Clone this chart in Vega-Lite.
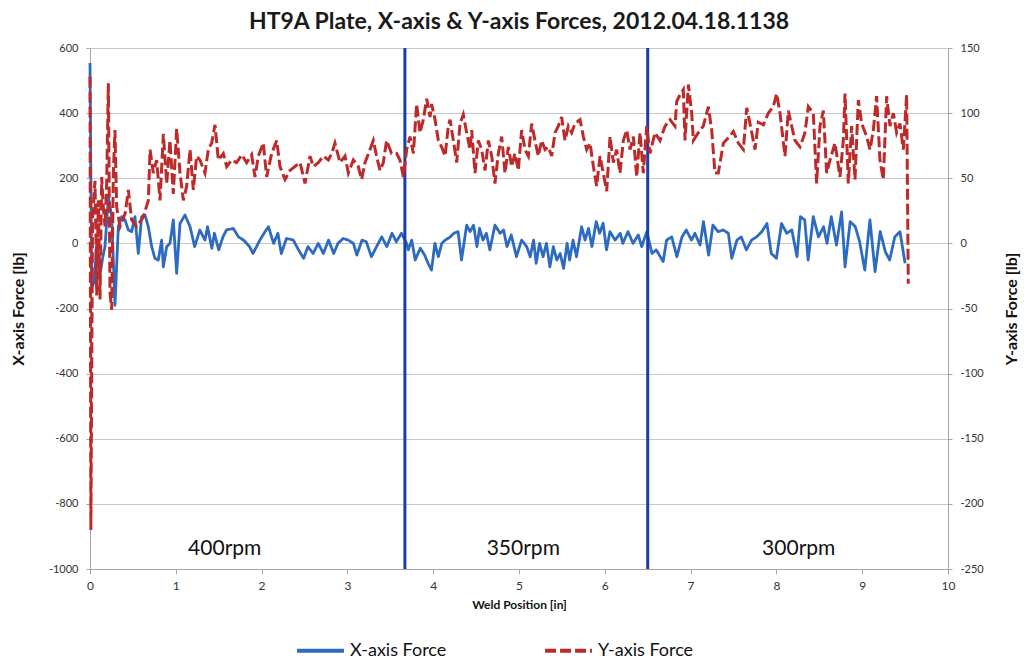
{
  "$schema": "https://vega.github.io/schema/vega-lite/v6.json",
  "width": 858,
  "height": 521,
  "autosize": {"type": "none"},
  "padding": {"left": 90, "top": 48, "right": 80, "bottom": 92},
  "background": "white",
  "config": {
    "font": "Lato",
    "view": {"stroke": null},
    "axis": {"domainColor": "#a6a6a6", "tickColor": "#a6a6a6", "labelColor": "#333333", "titleColor": "#111111", "gridColor": "#c8c8c8", "labelFont": "Lato", "titleFont": "Lato"},
    "legend": {"labelFont": "Lato"}
  },
  "title": {"text": "HT9A Plate, X-axis & Y-axis Forces, 2012.04.18.1138", "font": "Lato", "fontSize": 23, "fontWeight": "bold", "color": "#1a1a1a", "offset": 8, "anchor": "middle"},
  "datasets": {
    "forces": [
      {"pos": 0.0, "force": 554, "series": "X-axis Force"},
      {"pos": 0.02, "force": -133, "series": "X-axis Force"},
      {"pos": 0.05, "force": -120, "series": "X-axis Force"},
      {"pos": 0.08, "force": 10, "series": "X-axis Force"},
      {"pos": 0.10, "force": -60, "series": "X-axis Force"},
      {"pos": 0.12, "force": -92, "series": "X-axis Force"},
      {"pos": 0.15, "force": -40, "series": "X-axis Force"},
      {"pos": 0.175, "force": -10, "series": "X-axis Force"},
      {"pos": 0.214, "force": 143, "series": "X-axis Force"},
      {"pos": 0.253, "force": 82, "series": "X-axis Force"},
      {"pos": 0.291, "force": -190, "series": "X-axis Force"},
      {"pos": 0.33, "force": 51, "series": "X-axis Force"},
      {"pos": 0.369, "force": 82, "series": "X-axis Force"},
      {"pos": 0.408, "force": 72, "series": "X-axis Force"},
      {"pos": 0.447, "force": 41, "series": "X-axis Force"},
      {"pos": 0.485, "force": 36, "series": "X-axis Force"},
      {"pos": 0.524, "force": 82, "series": "X-axis Force"},
      {"pos": 0.563, "force": -31, "series": "X-axis Force"},
      {"pos": 0.602, "force": 82, "series": "X-axis Force"},
      {"pos": 0.641, "force": 87, "series": "X-axis Force"},
      {"pos": 0.68, "force": 51, "series": "X-axis Force"},
      {"pos": 0.719, "force": -10, "series": "X-axis Force"},
      {"pos": 0.757, "force": -46, "series": "X-axis Force"},
      {"pos": 0.796, "force": -51, "series": "X-axis Force"},
      {"pos": 0.835, "force": 10, "series": "X-axis Force"},
      {"pos": 0.855, "force": -72, "series": "X-axis Force"},
      {"pos": 0.894, "force": -10, "series": "X-axis Force"},
      {"pos": 0.932, "force": 0, "series": "X-axis Force"},
      {"pos": 0.971, "force": 72, "series": "X-axis Force"},
      {"pos": 1.01, "force": -92, "series": "X-axis Force"},
      {"pos": 1.049, "force": 61, "series": "X-axis Force"},
      {"pos": 1.107, "force": 87, "series": "X-axis Force"},
      {"pos": 1.166, "force": 51, "series": "X-axis Force"},
      {"pos": 1.22, "force": -10, "series": "X-axis Force"},
      {"pos": 1.28, "force": 41, "series": "X-axis Force"},
      {"pos": 1.34, "force": 10, "series": "X-axis Force"},
      {"pos": 1.37, "force": 51, "series": "X-axis Force"},
      {"pos": 1.42, "force": -15, "series": "X-axis Force"},
      {"pos": 1.45, "force": 31, "series": "X-axis Force"},
      {"pos": 1.50, "force": -20, "series": "X-axis Force"},
      {"pos": 1.55, "force": 20, "series": "X-axis Force"},
      {"pos": 1.59, "force": 41, "series": "X-axis Force"},
      {"pos": 1.67, "force": 46, "series": "X-axis Force"},
      {"pos": 1.73, "force": 20, "series": "X-axis Force"},
      {"pos": 1.79, "force": 10, "series": "X-axis Force"},
      {"pos": 1.86, "force": -10, "series": "X-axis Force"},
      {"pos": 1.90, "force": -31, "series": "X-axis Force"},
      {"pos": 1.98, "force": 10, "series": "X-axis Force"},
      {"pos": 2.04, "force": 36, "series": "X-axis Force"},
      {"pos": 2.08, "force": 51, "series": "X-axis Force"},
      {"pos": 2.14, "force": 0, "series": "X-axis Force"},
      {"pos": 2.19, "force": 31, "series": "X-axis Force"},
      {"pos": 2.23, "force": -31, "series": "X-axis Force"},
      {"pos": 2.29, "force": 15, "series": "X-axis Force"},
      {"pos": 2.37, "force": 10, "series": "X-axis Force"},
      {"pos": 2.43, "force": -20, "series": "X-axis Force"},
      {"pos": 2.49, "force": -46, "series": "X-axis Force"},
      {"pos": 2.54, "force": -10, "series": "X-axis Force"},
      {"pos": 2.60, "force": -31, "series": "X-axis Force"},
      {"pos": 2.66, "force": 0, "series": "X-axis Force"},
      {"pos": 2.72, "force": -31, "series": "X-axis Force"},
      {"pos": 2.78, "force": 10, "series": "X-axis Force"},
      {"pos": 2.84, "force": -31, "series": "X-axis Force"},
      {"pos": 2.89, "force": 0, "series": "X-axis Force"},
      {"pos": 2.95, "force": 15, "series": "X-axis Force"},
      {"pos": 3.01, "force": 10, "series": "X-axis Force"},
      {"pos": 3.07, "force": 0, "series": "X-axis Force"},
      {"pos": 3.11, "force": -36, "series": "X-axis Force"},
      {"pos": 3.17, "force": 10, "series": "X-axis Force"},
      {"pos": 3.22, "force": 5, "series": "X-axis Force"},
      {"pos": 3.28, "force": -41, "series": "X-axis Force"},
      {"pos": 3.34, "force": -10, "series": "X-axis Force"},
      {"pos": 3.40, "force": 20, "series": "X-axis Force"},
      {"pos": 3.46, "force": -10, "series": "X-axis Force"},
      {"pos": 3.52, "force": 31, "series": "X-axis Force"},
      {"pos": 3.57, "force": 5, "series": "X-axis Force"},
      {"pos": 3.63, "force": 31, "series": "X-axis Force"},
      {"pos": 3.69, "force": 0, "series": "X-axis Force"},
      {"pos": 3.71, "force": -20, "series": "X-axis Force"},
      {"pos": 3.75, "force": 10, "series": "X-axis Force"},
      {"pos": 3.79, "force": -51, "series": "X-axis Force"},
      {"pos": 3.85, "force": -15, "series": "X-axis Force"},
      {"pos": 3.90, "force": -36, "series": "X-axis Force"},
      {"pos": 3.94, "force": -61, "series": "X-axis Force"},
      {"pos": 3.98, "force": -82, "series": "X-axis Force"},
      {"pos": 4.02, "force": 0, "series": "X-axis Force"},
      {"pos": 4.06, "force": -41, "series": "X-axis Force"},
      {"pos": 4.10, "force": 0, "series": "X-axis Force"},
      {"pos": 4.14, "force": 10, "series": "X-axis Force"},
      {"pos": 4.20, "force": 20, "series": "X-axis Force"},
      {"pos": 4.24, "force": 31, "series": "X-axis Force"},
      {"pos": 4.29, "force": 36, "series": "X-axis Force"},
      {"pos": 4.33, "force": -51, "series": "X-axis Force"},
      {"pos": 4.39, "force": 56, "series": "X-axis Force"},
      {"pos": 4.43, "force": 36, "series": "X-axis Force"},
      {"pos": 4.47, "force": 56, "series": "X-axis Force"},
      {"pos": 4.51, "force": -10, "series": "X-axis Force"},
      {"pos": 4.54, "force": 46, "series": "X-axis Force"},
      {"pos": 4.58, "force": 10, "series": "X-axis Force"},
      {"pos": 4.62, "force": 31, "series": "X-axis Force"},
      {"pos": 4.66, "force": -20, "series": "X-axis Force"},
      {"pos": 4.72, "force": 56, "series": "X-axis Force"},
      {"pos": 4.78, "force": 31, "series": "X-axis Force"},
      {"pos": 4.82, "force": 41, "series": "X-axis Force"},
      {"pos": 4.86, "force": -10, "series": "X-axis Force"},
      {"pos": 4.91, "force": 26, "series": "X-axis Force"},
      {"pos": 4.97, "force": -41, "series": "X-axis Force"},
      {"pos": 5.03, "force": 10, "series": "X-axis Force"},
      {"pos": 5.09, "force": -10, "series": "X-axis Force"},
      {"pos": 5.13, "force": -41, "series": "X-axis Force"},
      {"pos": 5.17, "force": 10, "series": "X-axis Force"},
      {"pos": 5.20, "force": -61, "series": "X-axis Force"},
      {"pos": 5.24, "force": 0, "series": "X-axis Force"},
      {"pos": 5.28, "force": -41, "series": "X-axis Force"},
      {"pos": 5.32, "force": 0, "series": "X-axis Force"},
      {"pos": 5.36, "force": -72, "series": "X-axis Force"},
      {"pos": 5.40, "force": -10, "series": "X-axis Force"},
      {"pos": 5.44, "force": -51, "series": "X-axis Force"},
      {"pos": 5.48, "force": -31, "series": "X-axis Force"},
      {"pos": 5.52, "force": -77, "series": "X-axis Force"},
      {"pos": 5.56, "force": 0, "series": "X-axis Force"},
      {"pos": 5.59, "force": -51, "series": "X-axis Force"},
      {"pos": 5.63, "force": 10, "series": "X-axis Force"},
      {"pos": 5.67, "force": -41, "series": "X-axis Force"},
      {"pos": 5.73, "force": 51, "series": "X-axis Force"},
      {"pos": 5.77, "force": 10, "series": "X-axis Force"},
      {"pos": 5.81, "force": 46, "series": "X-axis Force"},
      {"pos": 5.85, "force": -10, "series": "X-axis Force"},
      {"pos": 5.90, "force": 67, "series": "X-axis Force"},
      {"pos": 5.94, "force": 31, "series": "X-axis Force"},
      {"pos": 5.98, "force": 62, "series": "X-axis Force"},
      {"pos": 6.02, "force": -20, "series": "X-axis Force"},
      {"pos": 6.06, "force": 36, "series": "X-axis Force"},
      {"pos": 6.12, "force": 10, "series": "X-axis Force"},
      {"pos": 6.18, "force": 31, "series": "X-axis Force"},
      {"pos": 6.21, "force": 0, "series": "X-axis Force"},
      {"pos": 6.27, "force": 36, "series": "X-axis Force"},
      {"pos": 6.33, "force": 0, "series": "X-axis Force"},
      {"pos": 6.39, "force": 26, "series": "X-axis Force"},
      {"pos": 6.43, "force": -10, "series": "X-axis Force"},
      {"pos": 6.49, "force": 36, "series": "X-axis Force"},
      {"pos": 6.55, "force": -31, "series": "X-axis Force"},
      {"pos": 6.60, "force": -20, "series": "X-axis Force"},
      {"pos": 6.68, "force": -56, "series": "X-axis Force"},
      {"pos": 6.72, "force": 10, "series": "X-axis Force"},
      {"pos": 6.78, "force": 20, "series": "X-axis Force"},
      {"pos": 6.84, "force": -41, "series": "X-axis Force"},
      {"pos": 6.90, "force": 20, "series": "X-axis Force"},
      {"pos": 6.95, "force": 41, "series": "X-axis Force"},
      {"pos": 7.01, "force": 10, "series": "X-axis Force"},
      {"pos": 7.05, "force": 31, "series": "X-axis Force"},
      {"pos": 7.11, "force": -5, "series": "X-axis Force"},
      {"pos": 7.15, "force": 67, "series": "X-axis Force"},
      {"pos": 7.21, "force": -36, "series": "X-axis Force"},
      {"pos": 7.26, "force": 56, "series": "X-axis Force"},
      {"pos": 7.32, "force": 36, "series": "X-axis Force"},
      {"pos": 7.38, "force": 41, "series": "X-axis Force"},
      {"pos": 7.44, "force": 31, "series": "X-axis Force"},
      {"pos": 7.48, "force": -46, "series": "X-axis Force"},
      {"pos": 7.54, "force": 10, "series": "X-axis Force"},
      {"pos": 7.59, "force": 20, "series": "X-axis Force"},
      {"pos": 7.65, "force": -20, "series": "X-axis Force"},
      {"pos": 7.71, "force": 10, "series": "X-axis Force"},
      {"pos": 7.77, "force": 20, "series": "X-axis Force"},
      {"pos": 7.83, "force": 36, "series": "X-axis Force"},
      {"pos": 7.89, "force": 61, "series": "X-axis Force"},
      {"pos": 7.94, "force": -31, "series": "X-axis Force"},
      {"pos": 8.00, "force": -46, "series": "X-axis Force"},
      {"pos": 8.06, "force": 61, "series": "X-axis Force"},
      {"pos": 8.12, "force": 31, "series": "X-axis Force"},
      {"pos": 8.18, "force": 41, "series": "X-axis Force"},
      {"pos": 8.24, "force": -41, "series": "X-axis Force"},
      {"pos": 8.28, "force": 82, "series": "X-axis Force"},
      {"pos": 8.33, "force": 72, "series": "X-axis Force"},
      {"pos": 8.37, "force": -51, "series": "X-axis Force"},
      {"pos": 8.43, "force": 82, "series": "X-axis Force"},
      {"pos": 8.49, "force": 20, "series": "X-axis Force"},
      {"pos": 8.55, "force": 51, "series": "X-axis Force"},
      {"pos": 8.59, "force": 0, "series": "X-axis Force"},
      {"pos": 8.64, "force": 82, "series": "X-axis Force"},
      {"pos": 8.70, "force": -5, "series": "X-axis Force"},
      {"pos": 8.76, "force": 97, "series": "X-axis Force"},
      {"pos": 8.80, "force": -72, "series": "X-axis Force"},
      {"pos": 8.86, "force": 67, "series": "X-axis Force"},
      {"pos": 8.92, "force": 51, "series": "X-axis Force"},
      {"pos": 8.97, "force": 5, "series": "X-axis Force"},
      {"pos": 9.03, "force": -82, "series": "X-axis Force"},
      {"pos": 9.09, "force": 72, "series": "X-axis Force"},
      {"pos": 9.15, "force": -87, "series": "X-axis Force"},
      {"pos": 9.21, "force": 36, "series": "X-axis Force"},
      {"pos": 9.27, "force": -26, "series": "X-axis Force"},
      {"pos": 9.32, "force": -51, "series": "X-axis Force"},
      {"pos": 9.38, "force": 20, "series": "X-axis Force"},
      {"pos": 9.44, "force": 36, "series": "X-axis Force"},
      {"pos": 9.50, "force": -61, "series": "X-axis Force"},

      {"pos": 0.0, "force": 128, "series": "Y-axis Force"},
      {"pos": 0.01, "force": -220, "series": "Y-axis Force"},
      {"pos": 0.03, "force": 20, "series": "Y-axis Force"},
      {"pos": 0.058, "force": 48, "series": "Y-axis Force"},
      {"pos": 0.07, "force": 3, "series": "Y-axis Force"},
      {"pos": 0.078, "force": -40, "series": "Y-axis Force"},
      {"pos": 0.097, "force": 33, "series": "Y-axis Force"},
      {"pos": 0.117, "force": -43, "series": "Y-axis Force"},
      {"pos": 0.136, "force": 51, "series": "Y-axis Force"},
      {"pos": 0.155, "force": 28, "series": "Y-axis Force"},
      {"pos": 0.175, "force": 13, "series": "Y-axis Force"},
      {"pos": 0.194, "force": 46, "series": "Y-axis Force"},
      {"pos": 0.214, "force": 123, "series": "Y-axis Force"},
      {"pos": 0.233, "force": -38, "series": "Y-axis Force"},
      {"pos": 0.253, "force": -51, "series": "Y-axis Force"},
      {"pos": 0.272, "force": 54, "series": "Y-axis Force"},
      {"pos": 0.291, "force": 87, "series": "Y-axis Force"},
      {"pos": 0.311, "force": 28, "series": "Y-axis Force"},
      {"pos": 0.35, "force": 13, "series": "Y-axis Force"},
      {"pos": 0.41, "force": 23, "series": "Y-axis Force"},
      {"pos": 0.447, "force": 41, "series": "Y-axis Force"},
      {"pos": 0.485, "force": 18, "series": "Y-axis Force"},
      {"pos": 0.544, "force": 13, "series": "Y-axis Force"},
      {"pos": 0.62, "force": 20, "series": "Y-axis Force"},
      {"pos": 0.68, "force": 33, "series": "Y-axis Force"},
      {"pos": 0.70, "force": 72, "series": "Y-axis Force"},
      {"pos": 0.738, "force": 54, "series": "Y-axis Force"},
      {"pos": 0.777, "force": 64, "series": "Y-axis Force"},
      {"pos": 0.816, "force": 33, "series": "Y-axis Force"},
      {"pos": 0.855, "force": 84, "series": "Y-axis Force"},
      {"pos": 0.894, "force": 46, "series": "Y-axis Force"},
      {"pos": 0.932, "force": 79, "series": "Y-axis Force"},
      {"pos": 0.971, "force": 38, "series": "Y-axis Force"},
      {"pos": 1.01, "force": 88, "series": "Y-axis Force"},
      {"pos": 1.049, "force": 54, "series": "Y-axis Force"},
      {"pos": 1.088, "force": 33, "series": "Y-axis Force"},
      {"pos": 1.127, "force": 44, "series": "Y-axis Force"},
      {"pos": 1.166, "force": 72, "series": "Y-axis Force"},
      {"pos": 1.204, "force": 41, "series": "Y-axis Force"},
      {"pos": 1.243, "force": 67, "series": "Y-axis Force"},
      {"pos": 1.282, "force": 64, "series": "Y-axis Force"},
      {"pos": 1.34, "force": 54, "series": "Y-axis Force"},
      {"pos": 1.379, "force": 72, "series": "Y-axis Force"},
      {"pos": 1.418, "force": 77, "series": "Y-axis Force"},
      {"pos": 1.457, "force": 91, "series": "Y-axis Force"},
      {"pos": 1.496, "force": 64, "series": "Y-axis Force"},
      {"pos": 1.554, "force": 69, "series": "Y-axis Force"},
      {"pos": 1.593, "force": 59, "series": "Y-axis Force"},
      {"pos": 1.651, "force": 64, "series": "Y-axis Force"},
      {"pos": 1.709, "force": 62, "series": "Y-axis Force"},
      {"pos": 1.768, "force": 68, "series": "Y-axis Force"},
      {"pos": 1.826, "force": 62, "series": "Y-axis Force"},
      {"pos": 1.884, "force": 68, "series": "Y-axis Force"},
      {"pos": 1.923, "force": 51, "series": "Y-axis Force"},
      {"pos": 1.962, "force": 67, "series": "Y-axis Force"},
      {"pos": 2.02, "force": 77, "series": "Y-axis Force"},
      {"pos": 2.059, "force": 51, "series": "Y-axis Force"},
      {"pos": 2.117, "force": 69, "series": "Y-axis Force"},
      {"pos": 2.176, "force": 79, "series": "Y-axis Force"},
      {"pos": 2.214, "force": 59, "series": "Y-axis Force"},
      {"pos": 2.273, "force": 49, "series": "Y-axis Force"},
      {"pos": 2.331, "force": 56, "series": "Y-axis Force"},
      {"pos": 2.389, "force": 59, "series": "Y-axis Force"},
      {"pos": 2.448, "force": 62, "series": "Y-axis Force"},
      {"pos": 2.506, "force": 46, "series": "Y-axis Force"},
      {"pos": 2.564, "force": 67, "series": "Y-axis Force"},
      {"pos": 2.603, "force": 59, "series": "Y-axis Force"},
      {"pos": 2.661, "force": 62, "series": "Y-axis Force"},
      {"pos": 2.72, "force": 67, "series": "Y-axis Force"},
      {"pos": 2.778, "force": 64, "series": "Y-axis Force"},
      {"pos": 2.817, "force": 69, "series": "Y-axis Force"},
      {"pos": 2.855, "force": 77, "series": "Y-axis Force"},
      {"pos": 2.914, "force": 62, "series": "Y-axis Force"},
      {"pos": 2.972, "force": 67, "series": "Y-axis Force"},
      {"pos": 3.011, "force": 54, "series": "Y-axis Force"},
      {"pos": 3.069, "force": 64, "series": "Y-axis Force"},
      {"pos": 3.127, "force": 59, "series": "Y-axis Force"},
      {"pos": 3.166, "force": 49, "series": "Y-axis Force"},
      {"pos": 3.205, "force": 62, "series": "Y-axis Force"},
      {"pos": 3.263, "force": 72, "series": "Y-axis Force"},
      {"pos": 3.302, "force": 79, "series": "Y-axis Force"},
      {"pos": 3.34, "force": 67, "series": "Y-axis Force"},
      {"pos": 3.38, "force": 56, "series": "Y-axis Force"},
      {"pos": 3.419, "force": 62, "series": "Y-axis Force"},
      {"pos": 3.457, "force": 79, "series": "Y-axis Force"},
      {"pos": 3.515, "force": 69, "series": "Y-axis Force"},
      {"pos": 3.574, "force": 69, "series": "Y-axis Force"},
      {"pos": 3.613, "force": 64, "series": "Y-axis Force"},
      {"pos": 3.652, "force": 51, "series": "Y-axis Force"},
      {"pos": 3.691, "force": 72, "series": "Y-axis Force"},
      {"pos": 3.73, "force": 82, "series": "Y-axis Force"},
      {"pos": 3.769, "force": 69, "series": "Y-axis Force"},
      {"pos": 3.807, "force": 107, "series": "Y-axis Force"},
      {"pos": 3.846, "force": 85, "series": "Y-axis Force"},
      {"pos": 3.885, "force": 95, "series": "Y-axis Force"},
      {"pos": 3.924, "force": 111, "series": "Y-axis Force"},
      {"pos": 3.963, "force": 97, "series": "Y-axis Force"},
      {"pos": 3.982, "force": 107, "series": "Y-axis Force"},
      {"pos": 4.021, "force": 95, "series": "Y-axis Force"},
      {"pos": 4.06, "force": 79, "series": "Y-axis Force"},
      {"pos": 4.099, "force": 74, "series": "Y-axis Force"},
      {"pos": 4.138, "force": 67, "series": "Y-axis Force"},
      {"pos": 4.176, "force": 90, "series": "Y-axis Force"},
      {"pos": 4.196, "force": 95, "series": "Y-axis Force"},
      {"pos": 4.235, "force": 79, "series": "Y-axis Force"},
      {"pos": 4.274, "force": 62, "series": "Y-axis Force"},
      {"pos": 4.313, "force": 92, "series": "Y-axis Force"},
      {"pos": 4.351, "force": 99, "series": "Y-axis Force"},
      {"pos": 4.39, "force": 85, "series": "Y-axis Force"},
      {"pos": 4.429, "force": 72, "series": "Y-axis Force"},
      {"pos": 4.449, "force": 87, "series": "Y-axis Force"},
      {"pos": 4.487, "force": 54, "series": "Y-axis Force"},
      {"pos": 4.526, "force": 79, "series": "Y-axis Force"},
      {"pos": 4.565, "force": 72, "series": "Y-axis Force"},
      {"pos": 4.604, "force": 56, "series": "Y-axis Force"},
      {"pos": 4.643, "force": 79, "series": "Y-axis Force"},
      {"pos": 4.682, "force": 67, "series": "Y-axis Force"},
      {"pos": 4.72, "force": 46, "series": "Y-axis Force"},
      {"pos": 4.759, "force": 69, "series": "Y-axis Force"},
      {"pos": 4.798, "force": 82, "series": "Y-axis Force"},
      {"pos": 4.837, "force": 54, "series": "Y-axis Force"},
      {"pos": 4.876, "force": 74, "series": "Y-axis Force"},
      {"pos": 4.915, "force": 59, "series": "Y-axis Force"},
      {"pos": 4.953, "force": 69, "series": "Y-axis Force"},
      {"pos": 4.992, "force": 56, "series": "Y-axis Force"},
      {"pos": 5.031, "force": 87, "series": "Y-axis Force"},
      {"pos": 5.07, "force": 72, "series": "Y-axis Force"},
      {"pos": 5.109, "force": 67, "series": "Y-axis Force"},
      {"pos": 5.148, "force": 92, "series": "Y-axis Force"},
      {"pos": 5.186, "force": 79, "series": "Y-axis Force"},
      {"pos": 5.225, "force": 67, "series": "Y-axis Force"},
      {"pos": 5.264, "force": 79, "series": "Y-axis Force"},
      {"pos": 5.303, "force": 72, "series": "Y-axis Force"},
      {"pos": 5.342, "force": 74, "series": "Y-axis Force"},
      {"pos": 5.381, "force": 67, "series": "Y-axis Force"},
      {"pos": 5.42, "force": 85, "series": "Y-axis Force"},
      {"pos": 5.458, "force": 90, "series": "Y-axis Force"},
      {"pos": 5.497, "force": 97, "series": "Y-axis Force"},
      {"pos": 5.536, "force": 79, "series": "Y-axis Force"},
      {"pos": 5.575, "force": 90, "series": "Y-axis Force"},
      {"pos": 5.614, "force": 85, "series": "Y-axis Force"},
      {"pos": 5.653, "force": 92, "series": "Y-axis Force"},
      {"pos": 5.711, "force": 95, "series": "Y-axis Force"},
      {"pos": 5.75, "force": 82, "series": "Y-axis Force"},
      {"pos": 5.789, "force": 72, "series": "Y-axis Force"},
      {"pos": 5.828, "force": 77, "series": "Y-axis Force"},
      {"pos": 5.867, "force": 59, "series": "Y-axis Force"},
      {"pos": 5.905, "force": 44, "series": "Y-axis Force"},
      {"pos": 5.944, "force": 67, "series": "Y-axis Force"},
      {"pos": 5.983, "force": 54, "series": "Y-axis Force"},
      {"pos": 6.022, "force": 40, "series": "Y-axis Force"},
      {"pos": 6.061, "force": 82, "series": "Y-axis Force"},
      {"pos": 6.10, "force": 62, "series": "Y-axis Force"},
      {"pos": 6.138, "force": 72, "series": "Y-axis Force"},
      {"pos": 6.177, "force": 54, "series": "Y-axis Force"},
      {"pos": 6.216, "force": 79, "series": "Y-axis Force"},
      {"pos": 6.255, "force": 87, "series": "Y-axis Force"},
      {"pos": 6.294, "force": 72, "series": "Y-axis Force"},
      {"pos": 6.333, "force": 82, "series": "Y-axis Force"},
      {"pos": 6.372, "force": 51, "series": "Y-axis Force"},
      {"pos": 6.41, "force": 85, "series": "Y-axis Force"},
      {"pos": 6.449, "force": 54, "series": "Y-axis Force"},
      {"pos": 6.488, "force": 90, "series": "Y-axis Force"},
      {"pos": 6.527, "force": 69, "series": "Y-axis Force"},
      {"pos": 6.585, "force": 85, "series": "Y-axis Force"},
      {"pos": 6.643, "force": 79, "series": "Y-axis Force"},
      {"pos": 6.702, "force": 90, "series": "Y-axis Force"},
      {"pos": 6.76, "force": 95, "series": "Y-axis Force"},
      {"pos": 6.818, "force": 90, "series": "Y-axis Force"},
      {"pos": 6.838, "force": 109, "series": "Y-axis Force"},
      {"pos": 6.876, "force": 114, "series": "Y-axis Force"},
      {"pos": 6.915, "force": 118, "series": "Y-axis Force"},
      {"pos": 6.935, "force": 79, "series": "Y-axis Force"},
      {"pos": 6.974, "force": 122, "series": "Y-axis Force"},
      {"pos": 7.013, "force": 100, "series": "Y-axis Force"},
      {"pos": 7.032, "force": 79, "series": "Y-axis Force"},
      {"pos": 7.09, "force": 85, "series": "Y-axis Force"},
      {"pos": 7.148, "force": 90, "series": "Y-axis Force"},
      {"pos": 7.207, "force": 105, "series": "Y-axis Force"},
      {"pos": 7.246, "force": 87, "series": "Y-axis Force"},
      {"pos": 7.284, "force": 54, "series": "Y-axis Force"},
      {"pos": 7.323, "force": 54, "series": "Y-axis Force"},
      {"pos": 7.382, "force": 77, "series": "Y-axis Force"},
      {"pos": 7.44, "force": 81, "series": "Y-axis Force"},
      {"pos": 7.498, "force": 86, "series": "Y-axis Force"},
      {"pos": 7.556, "force": 77, "series": "Y-axis Force"},
      {"pos": 7.615, "force": 72, "series": "Y-axis Force"},
      {"pos": 7.654, "force": 104, "series": "Y-axis Force"},
      {"pos": 7.692, "force": 92, "series": "Y-axis Force"},
      {"pos": 7.751, "force": 72, "series": "Y-axis Force"},
      {"pos": 7.789, "force": 93, "series": "Y-axis Force"},
      {"pos": 7.848, "force": 91, "series": "Y-axis Force"},
      {"pos": 7.906, "force": 100, "series": "Y-axis Force"},
      {"pos": 7.964, "force": 105, "series": "Y-axis Force"},
      {"pos": 8.003, "force": 115, "series": "Y-axis Force"},
      {"pos": 8.042, "force": 100, "series": "Y-axis Force"},
      {"pos": 8.10, "force": 67, "series": "Y-axis Force"},
      {"pos": 8.139, "force": 102, "series": "Y-axis Force"},
      {"pos": 8.178, "force": 90, "series": "Y-axis Force"},
      {"pos": 8.217, "force": 79, "series": "Y-axis Force"},
      {"pos": 8.275, "force": 74, "series": "Y-axis Force"},
      {"pos": 8.333, "force": 85, "series": "Y-axis Force"},
      {"pos": 8.372, "force": 105, "series": "Y-axis Force"},
      {"pos": 8.43, "force": 100, "series": "Y-axis Force"},
      {"pos": 8.469, "force": 46, "series": "Y-axis Force"},
      {"pos": 8.508, "force": 90, "series": "Y-axis Force"},
      {"pos": 8.547, "force": 102, "series": "Y-axis Force"},
      {"pos": 8.586, "force": 54, "series": "Y-axis Force"},
      {"pos": 8.625, "force": 64, "series": "Y-axis Force"},
      {"pos": 8.683, "force": 77, "series": "Y-axis Force"},
      {"pos": 8.741, "force": 51, "series": "Y-axis Force"},
      {"pos": 8.78, "force": 79, "series": "Y-axis Force"},
      {"pos": 8.80, "force": 115, "series": "Y-axis Force"},
      {"pos": 8.838, "force": 46, "series": "Y-axis Force"},
      {"pos": 8.877, "force": 90, "series": "Y-axis Force"},
      {"pos": 8.916, "force": 49, "series": "Y-axis Force"},
      {"pos": 8.955, "force": 110, "series": "Y-axis Force"},
      {"pos": 8.994, "force": 92, "series": "Y-axis Force"},
      {"pos": 9.052, "force": 82, "series": "Y-axis Force"},
      {"pos": 9.091, "force": 72, "series": "Y-axis Force"},
      {"pos": 9.13, "force": 87, "series": "Y-axis Force"},
      {"pos": 9.168, "force": 113, "series": "Y-axis Force"},
      {"pos": 9.207, "force": 64, "series": "Y-axis Force"},
      {"pos": 9.246, "force": 49, "series": "Y-axis Force"},
      {"pos": 9.285, "force": 113, "series": "Y-axis Force"},
      {"pos": 9.324, "force": 90, "series": "Y-axis Force"},
      {"pos": 9.363, "force": 100, "series": "Y-axis Force"},
      {"pos": 9.401, "force": 85, "series": "Y-axis Force"},
      {"pos": 9.44, "force": 92, "series": "Y-axis Force"},
      {"pos": 9.479, "force": 72, "series": "Y-axis Force"},
      {"pos": 9.518, "force": 114, "series": "Y-axis Force"},
      {"pos": 9.537, "force": -31, "series": "Y-axis Force"}
    ],
    "dividers": [{"pos": 3.67}, {"pos": 6.5}],
    "speeds": [
      {"pos": 1.57, "force": -957, "label": "400rpm"},
      {"pos": 5.05, "force": -957, "label": "350rpm"},
      {"pos": 8.26, "force": -957, "label": "300rpm"}
    ]
  },
  "layer": [
    {
      "layer": [
        {
          "data": {"name": "forces"},
          "transform": [{"filter": "datum.series === 'X-axis Force'"}],
          "mark": {"type": "line", "strokeWidth": 2.8, "strokeJoin": "round"},
          "encoding": {
            "x": {"field": "pos", "type": "quantitative", "scale": {"domain": [0, 10], "nice": false, "zero": false, "padding": 0},
                  "axis": {"title": "Weld Position [in]", "values": [0,1,2,3,4,5,6,7,8,9,10], "labelExpr": "datum.value + ''", "labelFlush": false, "grid": false, "labelFontSize": 12, "labelPadding": 6, "tickSize": 5, "titleFontSize": 12, "titleFontWeight": "bold", "titlePadding": 8}},
            "y": {"field": "force", "type": "quantitative", "scale": {"domain": [-1000, 600], "nice": false, "zero": false},
                  "axis": {"title": "X-axis Force [lb]", "orient": "left", "values": [-1000,-800,-600,-400,-200,0,200,400,600], "labelExpr": "datum.value + ''", "labelFlush": false, "grid": true, "labelFontSize": 11, "labelPadding": 8, "tickSize": 4, "titleFontSize": 16, "titleFontWeight": "bold", "titlePadding": 22}},
            "color": {"field": "series", "type": "nominal", "scale": {"domain": ["X-axis Force", "Y-axis Force"], "range": ["#2d6bc0", "#be2a2a"]},
                      "legend": {"title": null, "orient": "none", "legendX": 205, "legendY": 577, "direction": "horizontal", "symbolType": "stroke", "symbolSize": 2200, "symbolStrokeWidth": 4, "labelFontSize": 18, "labelColor": "#111111", "columnPadding": 90}},
            "strokeDash": {"field": "series", "type": "nominal", "scale": {"domain": ["X-axis Force", "Y-axis Force"], "range": [[1, 0], [11, 4]]}, "legend": {"title": null, "orient": "none", "legendX": 205, "legendY": 577, "direction": "horizontal"}}
          }
        },
        {
          "data": {"name": "dividers"},
          "mark": {"type": "rule", "color": "#1b3fa6", "strokeWidth": 3},
          "encoding": {"x": {"field": "pos", "type": "quantitative", "scale": {"domain": [0, 10], "nice": false, "zero": false, "padding": 0}}}
        },
        {
          "data": {"name": "speeds"},
          "mark": {"type": "text", "fontSize": 21, "align": "center", "baseline": "alphabetic", "color": "#111111", "font": "Lato"},
          "encoding": {
            "x": {"field": "pos", "type": "quantitative", "scale": {"domain": [0, 10], "nice": false, "zero": false, "padding": 0}},
            "y": {"field": "force", "type": "quantitative"},
            "text": {"field": "label"}
          }
        }
      ]
    },
    {
      "data": {"name": "forces"},
      "transform": [{"filter": "datum.series === 'Y-axis Force'"}],
      "mark": {"type": "line", "strokeWidth": 3},
      "encoding": {
        "x": {"field": "pos", "type": "quantitative", "scale": {"domain": [0, 10], "nice": false, "zero": false, "padding": 0}},
        "y": {"field": "force", "type": "quantitative", "scale": {"domain": [-250, 150], "nice": false, "zero": false},
              "axis": {"title": "Y-axis Force [lb]", "orient": "right", "values": [-250,-200,-150,-100,-50,0,50,100,150], "labelExpr": "datum.value + ''", "labelFlush": false, "grid": false, "labelFontSize": 11, "labelPadding": 8, "tickSize": 4, "titleFontSize": 16, "titleFontWeight": "bold", "titleAngle": 270, "titlePadding": 36}},
        "color": {"field": "series", "type": "nominal"},
        "strokeDash": {"field": "series", "type": "nominal"}
      }
    }
  ],
  "resolve": {"scale": {"y": "independent"}}
}
